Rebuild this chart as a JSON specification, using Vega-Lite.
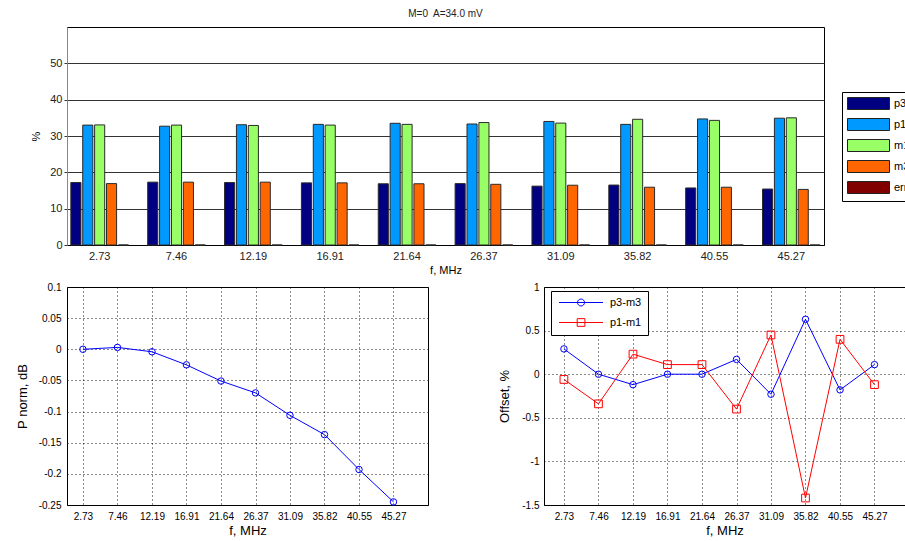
{
  "$schema": "https://vega.github.io/schema/vega-lite/v6.json",
  "autosize": {"type": "none"},
  "padding": {"left": 67, "top": 27, "right": 838, "bottom": 514},
  "background": "white",
  "bounds": "flush",
  "spacing": 42,
  "resolve": {"scale": {"color": "independent", "x": "independent", "y": "independent"}, "legend": {"color": "independent"}},
  "config": {
    "font": "Liberation Sans",
    "axis": {"labelFont": "Liberation Sans", "titleFont": "Liberation Sans", "titleFontWeight": "normal", "labelColor": "#000", "titleColor": "#000"},
    "legend": {"labelFont": "Liberation Sans", "labelColor": "#000"},
    "title": {"font": "Liberation Sans"},
    "view": {"stroke": "#000", "strokeWidth": 1}
  },
  "datasets": {
    "bars": [
      {"f": 2.73, "series": "p3", "value": 17.2}, {"f": 2.73, "series": "p1", "value": 33.0}, {"f": 2.73, "series": "m1", "value": 33.05}, {"f": 2.73, "series": "m3", "value": 16.9}, {"f": 2.73, "series": "err", "value": 0},
      {"f": 7.46, "series": "p3", "value": 17.3}, {"f": 7.46, "series": "p1", "value": 32.7}, {"f": 7.46, "series": "m1", "value": 33.0}, {"f": 7.46, "series": "m3", "value": 17.3}, {"f": 7.46, "series": "err", "value": 0},
      {"f": 12.19, "series": "p3", "value": 17.2}, {"f": 12.19, "series": "p1", "value": 33.1}, {"f": 12.19, "series": "m1", "value": 32.9}, {"f": 12.19, "series": "m3", "value": 17.3}, {"f": 12.19, "series": "err", "value": 0},
      {"f": 16.91, "series": "p3", "value": 17.1}, {"f": 16.91, "series": "p1", "value": 33.2}, {"f": 16.91, "series": "m1", "value": 33.0}, {"f": 16.91, "series": "m3", "value": 17.1}, {"f": 16.91, "series": "err", "value": 0},
      {"f": 21.64, "series": "p3", "value": 16.85}, {"f": 21.64, "series": "p1", "value": 33.5}, {"f": 21.64, "series": "m1", "value": 33.2}, {"f": 21.64, "series": "m3", "value": 16.85}, {"f": 21.64, "series": "err", "value": 0},
      {"f": 26.37, "series": "p3", "value": 16.9}, {"f": 26.37, "series": "p1", "value": 33.3}, {"f": 26.37, "series": "m1", "value": 33.7}, {"f": 26.37, "series": "m3", "value": 16.7}, {"f": 26.37, "series": "err", "value": 0},
      {"f": 31.09, "series": "p3", "value": 16.2}, {"f": 31.09, "series": "p1", "value": 34.0}, {"f": 31.09, "series": "m1", "value": 33.55}, {"f": 31.09, "series": "m3", "value": 16.45}, {"f": 31.09, "series": "err", "value": 0},
      {"f": 35.82, "series": "p3", "value": 16.5}, {"f": 35.82, "series": "p1", "value": 33.2}, {"f": 35.82, "series": "m1", "value": 34.6}, {"f": 35.82, "series": "m3", "value": 15.9}, {"f": 35.82, "series": "err", "value": 0},
      {"f": 40.55, "series": "p3", "value": 15.7}, {"f": 40.55, "series": "p1", "value": 34.7}, {"f": 40.55, "series": "m1", "value": 34.3}, {"f": 40.55, "series": "m3", "value": 15.9}, {"f": 40.55, "series": "err", "value": 0},
      {"f": 45.27, "series": "p3", "value": 15.4}, {"f": 45.27, "series": "p1", "value": 34.9}, {"f": 45.27, "series": "m1", "value": 35.0}, {"f": 45.27, "series": "m3", "value": 15.3}, {"f": 45.27, "series": "err", "value": 0}
    ],
    "pnorm": [
      {"f": 2.73, "p": 0}, {"f": 7.46, "p": 0.003}, {"f": 12.19, "p": -0.004}, {"f": 16.91, "p": -0.025}, {"f": 21.64, "p": -0.051},
      {"f": 26.37, "p": -0.07}, {"f": 31.09, "p": -0.106}, {"f": 35.82, "p": -0.137}, {"f": 40.55, "p": -0.193}, {"f": 45.27, "p": -0.245}
    ],
    "offsets": [
      {"f": 2.73, "series": "p3-m3", "offset": 0.29}, {"f": 7.46, "series": "p3-m3", "offset": 0}, {"f": 12.19, "series": "p3-m3", "offset": -0.12}, {"f": 16.91, "series": "p3-m3", "offset": 0}, {"f": 21.64, "series": "p3-m3", "offset": 0},
      {"f": 26.37, "series": "p3-m3", "offset": 0.17}, {"f": 31.09, "series": "p3-m3", "offset": -0.23}, {"f": 35.82, "series": "p3-m3", "offset": 0.63}, {"f": 40.55, "series": "p3-m3", "offset": -0.18}, {"f": 45.27, "series": "p3-m3", "offset": 0.11},
      {"f": 2.73, "series": "p1-m1", "offset": -0.06}, {"f": 7.46, "series": "p1-m1", "offset": -0.34}, {"f": 12.19, "series": "p1-m1", "offset": 0.23}, {"f": 16.91, "series": "p1-m1", "offset": 0.11}, {"f": 21.64, "series": "p1-m1", "offset": 0.11},
      {"f": 26.37, "series": "p1-m1", "offset": -0.4}, {"f": 31.09, "series": "p1-m1", "offset": 0.45}, {"f": 35.82, "series": "p1-m1", "offset": -1.42}, {"f": 40.55, "series": "p1-m1", "offset": 0.4}, {"f": 45.27, "series": "p1-m1", "offset": -0.12}
    ]
  },
  "vconcat": [
    {
      "title": {"text": "M=0\u00a0 A=34.0 mV", "fontSize": 10, "fontWeight": "normal", "color": "#222", "offset": 8, "anchor": "middle"},
      "width": 757,
      "height": 218,
      "data": {"name": "bars"},
      "mark": {"type": "bar", "stroke": "#2a2a2a", "strokeWidth": 1},
      "encoding": {
        "x": {
          "field": "f", "type": "ordinal",
          "scale": {"paddingInner": 0.25, "paddingOuter": 0.05},
          "axis": {"title": "f, MHz", "labelAngle": 0, "ticks": false, "domainColor": "#000", "labelFontSize": 11, "labelPadding": 5, "titleFontSize": 11, "titlePadding": 3, "labelColor": "#222"}
        },
        "xOffset": {"field": "series", "type": "nominal", "sort": ["p3", "p1", "m1", "m3", "err"], "scale": {"paddingInner": 0.15, "paddingOuter": 0}},
        "y": {
          "field": "value", "type": "quantitative",
          "scale": {"domain": [0, 60], "nice": false},
          "axis": {"values": [0, 10, 20, 30, 40, 50], "title": "%", "grid": true, "gridColor": "#333", "gridWidth": 1, "domainColor": "#888", "tickSize": 3, "tickColor": "#333", "labelPadding": 2, "labelFontSize": 11, "titleFontSize": 11, "titlePadding": 8, "labelColor": "#222"}
        },
        "color": {
          "field": "series", "type": "nominal",
          "scale": {"domain": ["p3", "p1", "m1", "m3", "err"], "range": ["#000080", "#0099ff", "#99ff66", "#ff6600", "#800000"]},
          "legend": {
            "title": null, "orient": "none", "legendX": 775, "legendY": 65,
            "symbolType": "M-1,-1H6V1H-1Z", "symbolSize": 144, "symbolStrokeWidth": 1, "symbolStrokeColor": "#222", "symbolOpacity": 1,
            "labelOffset": 34, "labelFontSize": 11, "rowPadding": 4, "padding": 5,
            "strokeColor": "#000", "fillColor": "#fff",
            "encode": {"symbols": {"update": {"stroke": {"value": "#222"}, "strokeWidth": {"value": 1}}}}
          }
        }
      }
    },
    {
      "bounds": "flush",
      "spacing": 116,
      "resolve": {"scale": {"color": "independent", "x": "independent", "y": "independent"}, "legend": {"color": "independent"}},
      "hconcat": [
        {
          "width": 361,
          "height": 218,
          "data": {"name": "pnorm"},
          "encoding": {
            "x": {
              "field": "f", "type": "quantitative",
              "scale": {"domain": [0.548, 50], "nice": false, "zero": false},
              "axis": {"title": "f, MHz", "values": [2.73, 7.46, 12.19, 16.91, 21.64, 26.37, 31.09, 35.82, 40.55, 45.27], "labelExpr": "'' + datum.value", "grid": true, "gridColor": "#000", "gridDash": [1, 3], "gridOpacity": 0.9, "ticks": false, "domain": false, "labelFontSize": 10, "labelPadding": 6, "titleFontSize": 13, "titlePadding": 3}
            },
            "y": {
              "field": "p", "type": "quantitative",
              "scale": {"domain": [-0.25, 0.1], "nice": false, "zero": false},
              "axis": {"title": "P norm, dB", "values": [-0.25, -0.2, -0.15, -0.1, -0.05, 0, 0.05, 0.1], "labelExpr": "'' + datum.value", "grid": true, "gridColor": "#000", "gridDash": [1, 3], "gridOpacity": 0.9, "ticks": false, "domain": false, "labelFontSize": 10, "labelPadding": 6, "titleFontSize": 13, "titlePadding": 9}
            }
          },
          "layer": [
            {"mark": {"type": "line", "color": "#0000ff", "strokeWidth": 1}},
            {"mark": {"type": "point", "shape": "circle", "filled": false, "color": "#0000ff", "size": 42, "strokeWidth": 1, "opacity": 1}}
          ]
        },
        {
          "width": 361,
          "height": 218,
          "data": {"name": "offsets"},
          "encoding": {
            "x": {
              "field": "f", "type": "quantitative",
              "scale": {"domain": [0, 49.45], "nice": false, "zero": false},
              "axis": {"title": "f, MHz", "values": [2.73, 7.46, 12.19, 16.91, 21.64, 26.37, 31.09, 35.82, 40.55, 45.27], "labelExpr": "'' + datum.value", "grid": true, "gridColor": "#000", "gridDash": [1, 3], "gridOpacity": 0.9, "ticks": false, "domain": false, "labelFontSize": 10, "labelPadding": 6, "titleFontSize": 13, "titlePadding": 3}
            },
            "y": {
              "field": "offset", "type": "quantitative",
              "scale": {"domain": [-1.5, 1], "nice": false, "zero": false},
              "axis": {"title": "Offset, %", "values": [-1.5, -1, -0.5, 0, 0.5, 1], "labelExpr": "'' + datum.value", "grid": true, "gridColor": "#000", "gridDash": [1, 3], "gridOpacity": 0.9, "ticks": false, "domain": false, "labelFontSize": 10, "labelPadding": 5, "titleFontSize": 13, "titlePadding": 10}
            },
            "color": {
              "field": "series", "type": "nominal",
              "scale": {"domain": ["p3-m3", "p1-m1"], "range": ["#0000ff", "#ff0000"]},
              "legend": {
                "title": null, "orient": "none", "legendX": 7, "legendY": 4,
                "symbolType": "M-1,0H11.57M6.29,0A1,1,0,1,1,4.29,0A1,1,0,1,1,6.29,0",
                "symbolSize": 49, "symbolStrokeWidth": 1, "labelOffset": 42, "labelFontSize": 11, "rowPadding": 8, "padding": 6,
                "strokeColor": "#000", "fillColor": "#fff",
                "encode": {"symbols": {"update": {
                  "shape": {"signal": "datum.value === 'p3-m3' ? 'M-1,0H11.57M6.29,0A1,1,0,1,1,4.29,0A1,1,0,1,1,6.29,0' : 'M-1,0H11.57M4.2,-1.1H6.4V1.1H4.2Z'"},
                  "fill": {"value": "transparent"},
                  "strokeWidth": {"value": 1},
                  "opacity": {"value": 1}
                }}}
              }
            }
          },
          "layer": [
            {"mark": {"type": "line", "strokeWidth": 1}},
            {
              "transform": [{"filter": "datum.series === 'p3-m3'"}],
              "mark": {"type": "point", "shape": "circle", "filled": false, "size": 42, "strokeWidth": 1, "opacity": 1}
            },
            {
              "transform": [{"filter": "datum.series === 'p1-m1'"}],
              "mark": {"type": "point", "shape": "square", "filled": false, "size": 60, "strokeWidth": 1, "opacity": 1}
            }
          ]
        }
      ]
    }
  ]
}
